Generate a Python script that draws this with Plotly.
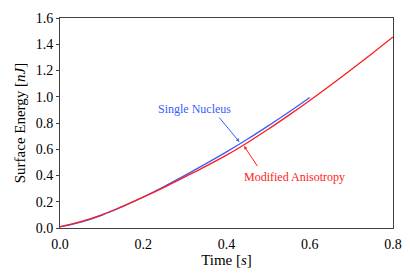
import plotly.graph_objects as go

t_red = [0.0, 0.05, 0.1, 0.15, 0.2, 0.25, 0.3, 0.35, 0.4, 0.45, 0.5, 0.55, 0.6, 0.65, 0.7, 0.75, 0.8]
e_red = [0.01, 0.048, 0.10, 0.165, 0.235, 0.31, 0.39, 0.47, 0.555, 0.65, 0.752, 0.86, 0.972, 1.088, 1.208, 1.33, 1.455]

t_blue = [0.0, 0.05, 0.1, 0.15, 0.2, 0.25, 0.3, 0.35, 0.4, 0.45, 0.5, 0.55, 0.6]
e_blue = [0.008, 0.045, 0.097, 0.162, 0.236, 0.316, 0.401, 0.489, 0.58, 0.676, 0.778, 0.884, 0.995]

x_ticks = [0.0, 0.2, 0.4, 0.6, 0.8]
y_ticks = [0.0, 0.2, 0.4, 0.6, 0.8, 1.0, 1.2, 1.4, 1.6]

RED = "#ff1a1a"
BLUE = "#3a5cff"
FONT = "Times New Roman"
AX = "#404040"

fig = go.Figure()
fig.add_trace(go.Scatter(x=t_blue, y=e_blue, mode="lines", line=dict(color=BLUE, width=1.3, shape="spline"), showlegend=False))
fig.add_trace(go.Scatter(x=t_red, y=e_red, mode="lines", line=dict(color=RED, width=1.3, shape="spline"), showlegend=False))

# arrows
fig.add_annotation(x=0.431, y=0.656, ax=0.3795, ay=0.853, axref="x", ayref="y", text="",
                   showarrow=True, arrowhead=2, arrowsize=0.7, arrowwidth=1, arrowcolor=BLUE, standoff=0)
fig.add_annotation(x=0.442, y=0.625, ax=0.4765, ay=0.461, axref="x", ayref="y", text="",
                   showarrow=True, arrowhead=2, arrowsize=0.7, arrowwidth=1, arrowcolor=RED, standoff=0)
# labels
fig.add_annotation(x=0.322, y=0.906, text="Single Nucleus", showarrow=False,
                   font=dict(family=FONT, size=12, color=BLUE))
fig.add_annotation(x=0.5625, y=0.389, text="Modified Anisotropy", showarrow=False,
                   font=dict(family=FONT, size=12, color=RED))

# the page body has an 8px margin, so the figure is sized to fit the 410x273 window
fig.update_layout(
    width=402, height=265,
    margin=dict(l=52, r=17, t=10, b=45, autoexpand=False),
    paper_bgcolor="white", plot_bgcolor="white",
    font=dict(family=FONT, size=14, color="black"),
    xaxis=dict(range=[0, 0.8], tickvals=x_ticks, ticktext=[f"{v:.1f}" for v in x_ticks],
               showgrid=False, zeroline=False, showline=True, linecolor=AX, linewidth=1, mirror=True,
               ticks="outside", ticklen=3, tickcolor="rgba(0,0,0,0)", automargin=False,
               tickfont=dict(family=FONT, size=14),
               title=dict(text="Time [<i>s</i>]", font=dict(family=FONT, size=15), standoff=2)),
    yaxis=dict(range=[0, 1.6], tickvals=y_ticks, ticktext=[f"{v:.1f}" for v in y_ticks],
               showgrid=False, zeroline=False, showline=True, linecolor=AX, linewidth=1, mirror=True,
               ticks="outside", ticklen=3, tickcolor=AX, automargin=False,
               tickfont=dict(family=FONT, size=14),
               title=dict(text="Surface Energy [<i>nJ</i>]", font=dict(family=FONT, size=15), standoff=6)),
)

fig.write_html("out.html")
